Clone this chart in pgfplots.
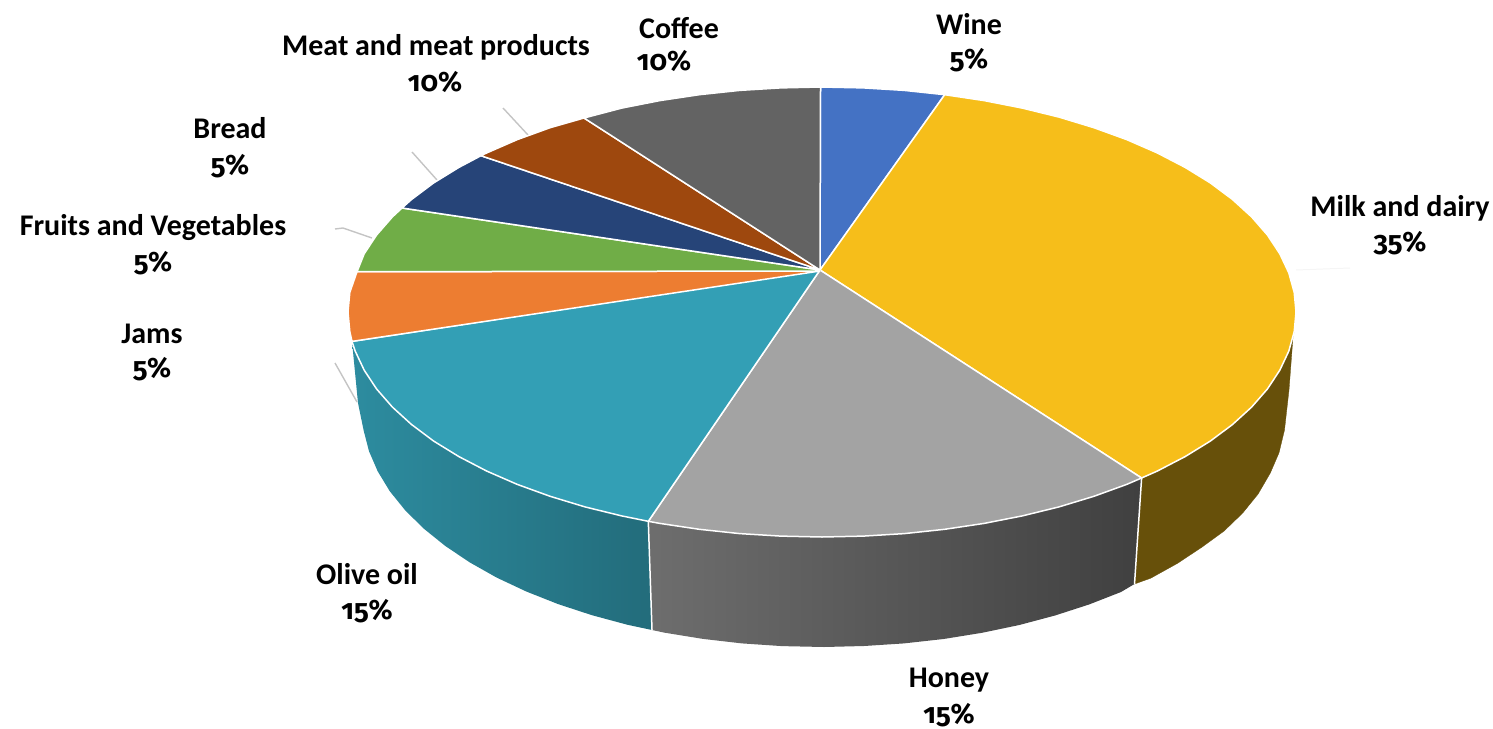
\documentclass[border=0pt]{standalone}
\usepackage{fontspec}
\setmainfont{Carlito}
\newfontfamily\pct{Fira Sans}[Numbers=OldStyle]
\usepackage{pgfplots}
\pgfplotsset{compat=1.18}
\definecolor{wine}{HTML}{4472C4}
\definecolor{milk}{HTML}{F6BE1A}
\definecolor{honey}{HTML}{A3A3A3}
\definecolor{olive}{HTML}{339FB5}
\definecolor{jams}{HTML}{ED7D31}
\definecolor{fruits}{HTML}{70AD47}
\definecolor{bread}{HTML}{264478}
\definecolor{meat}{HTML}{9E480E}
\definecolor{coffee}{HTML}{636363}
\definecolor{milkside}{HTML}{67500A}
\definecolor{leader}{HTML}{C4C4C4}
\tikzset{
  lab/.style={font=\fontsize{30}{34}\selectfont\bfseries,inner sep=0pt,anchor=center,text=black},
  val/.style={font=\fontsize{28}{32}\selectfont\pct\bfseries,inner sep=0pt,anchor=center,text=black},
}
\begin{document}
\begin{tikzpicture}
\useasboundingbox (0,0) rectangle (1493pt,728pt);
\begin{axis}[
  width=1493pt,height=728pt,scale only axis,
  xmin=0,xmax=1493,ymin=0,ymax=728,y dir=reverse,
  hide axis,clip=false,
  every axis plot/.append style={mark=none,line join=round},
]
% leader lines
\addplot[leader,line width=1.4pt] coordinates {(503,108)(528,135)};
\addplot[leader,line width=1.4pt] coordinates {(412,152)(437,180)};
\addplot[leader,line width=1.4pt] coordinates {(335,229)(343,228)(372,238)};
\addplot[leader,line width=1.4pt] coordinates {(335,363)(357,402)};
\addplot[black!4,line width=1pt] coordinates {(1296,270)(1350,268)};
% side wall: milk and dairy
\addplot[draw=milkside,fill=milkside,line width=0.3pt] coordinates {
 (1293,337)(1294.2,331.6)(1288.8,351.1)(1279.8,370.2)(1267.4,389)(1251.6,407.1)(1232.5,424.5)(1210.3,441.1)(1185.1,456.6)(1157.2,471.1)(1141.6,478)
 (1134.5,584)(1150.7,578.2)(1177.9,563.1)(1202.4,546.8)(1224.1,531)(1242.7,513)(1258.1,494)(1270.3,473)(1279,452.8)(1284.5,430)(1289,390)(1293,337)};
% side wall: honey
\addplot[draw=none,left color=black!57,right color=black!75] coordinates {
 (1141.6,478)(1126.7,484.4)(1093.9,496.3)(1059,506.9)(1022.3,515.9)(984.1,523.4)(944.7,529.3)(904.3,533.6)(863.3,536.1)(822,537)(780.7,536.1)(739.7,533.6)(699.3,529.3)(659.9,523.4)(648.3,521.3)
 (652,630)(664.7,632.7)(703,638.9)(742,643.4)(782,646.1)(824,647)(864,646)(904,643.4)(943.6,639)(982,632.8)(1019.3,625)(1055,615.5)(1089,604.5)(1121,592)(1134.5,584)(1141.6,478)};
% side wall: olive oil
\addplot[draw=none,left color=olive!88!black,right color=olive!68!black] coordinates {
 (648.3,521.3)(621.7,515.9)(585,506.9)(550.1,496.3)(517.3,484.4)(486.8,471.1)(458.9,456.6)(433.7,441.1)(411.5,424.5)(392.4,407.1)(376.6,389)(364.2,370.2)(355.2,351.1)(352,341.4)
 (358,403)(363.7,430.7)(369,451.2)(377.7,471.3)(389.7,491.1)(405.1,510.2)(423.6,528.5)(445.2,545.9)(469.6,562.3)(496.7,577.6)(526.3,591.5)(558.1,604.1)(592,615.2)(627.6,624.8)(652,630)(648.3,521.3)};
% edges between side walls
\addplot[white,line width=1.5pt] coordinates {(648.3,521.3)(652,630)};
\addplot[white,line width=1.5pt] coordinates {(1141.6,478)(1134.5,584)};
% top face wedges
\pgfplotsset{every axis plot/.append style={draw=white,line width=1.5pt}}
\addplot[fill=wine] coordinates {(820,270)(820.5,87)(863.3,87.9)(904.3,90.4)(944.7,94.7)(820,270)};
\addplot[fill=milk] coordinates {(820,270)(944.7,94.7)(984.1,100.6)(1022.3,108.1)(1059,117.1)(1093.9,127.7)(1126.7,139.6)(1157.2,152.9)(1185.1,167.4)(1210.3,182.9)(1232.5,199.5)(1251.6,216.9)(1267.4,235)(1279.8,253.8)(1288.8,272.9)(1294.2,292.4)(1296,312)(1294.2,331.6)(1288.8,351.1)(1279.8,370.2)(1267.4,389)(1251.6,407.1)(1232.5,424.5)(1210.3,441.1)(1185.1,456.6)(1157.2,471.1)(1141.6,478)(820,270)};
\addplot[fill=honey] coordinates {(820,270)(1141.6,478)(1126.7,484.4)(1093.9,496.3)(1059,506.9)(1022.3,515.9)(984.1,523.4)(944.7,529.3)(904.3,533.6)(863.3,536.1)(822,537)(780.7,536.1)(739.7,533.6)(699.3,529.3)(659.9,523.4)(648.3,521.3)(820,270)};
\addplot[fill=olive] coordinates {(820,270)(648.3,521.3)(621.7,515.9)(585,506.9)(550.1,496.3)(517.3,484.4)(486.8,471.1)(458.9,456.6)(433.7,441.1)(411.5,424.5)(392.4,407.1)(376.6,389)(364.2,370.2)(355.2,351.1)(352,341.4)(820,270)};
\addplot[fill=jams] coordinates {(820,271)(352,341.4)(349.8,331.6)(348,312)(349.8,292.4)(357,271.7)(820,271)};
\addplot[fill=fruits] coordinates {(820,271)(357,271.7)(364.2,253.8)(376.6,235)(392.4,216.9)(402,208)(820,270)};
\addplot[fill=bread] coordinates {(820,270)(402,208)(411.5,199.5)(433.7,182.9)(458.9,167.4)(481,155.7)(820,270)};
\addplot[fill=meat] coordinates {(820,270)(481,155.7)(486.8,152.9)(517.3,139.6)(550.1,127.7)(584,118)(820,270)};
\addplot[fill=coffee] coordinates {(820,270)(584,118)(621.7,108.1)(659.9,100.6)(699.3,94.7)(739.7,90.4)(780.7,87.9)(820.5,87)(820,270)};
% labels
\node[lab] at (axis cs:969,24) {Wine};
\node[val] at (axis cs:969,60) {5\%};
\node[lab] at (axis cs:679,28) {Coffee};
\node[val] at (axis cs:664,61) {10\%};
\node[lab] at (axis cs:1400,208) {Milk and dairy};
\node[val] at (axis cs:1400,243) {35\%};
\node[lab] at (axis cs:436,47) {Meat and meat products};
\node[val] at (axis cs:435,82) {10\%};
\node[lab] at (axis cs:230,128) {Bread};
\node[val] at (axis cs:230,166) {5\%};
\node[lab] at (axis cs:153,228) {Fruits and Vegetables};
\node[val] at (axis cs:153,263) {5\%};
\node[lab] at (axis cs:152,334) {Jams};
\node[val] at (axis cs:152,369) {5\%};
\node[lab] at (axis cs:367,574) {Olive oil};
\node[val] at (axis cs:367,611) {15\%};
\node[lab] at (axis cs:949,680) {Honey};
\node[val] at (axis cs:949,715) {15\%};
\end{axis}
\end{tikzpicture}
\end{document}
